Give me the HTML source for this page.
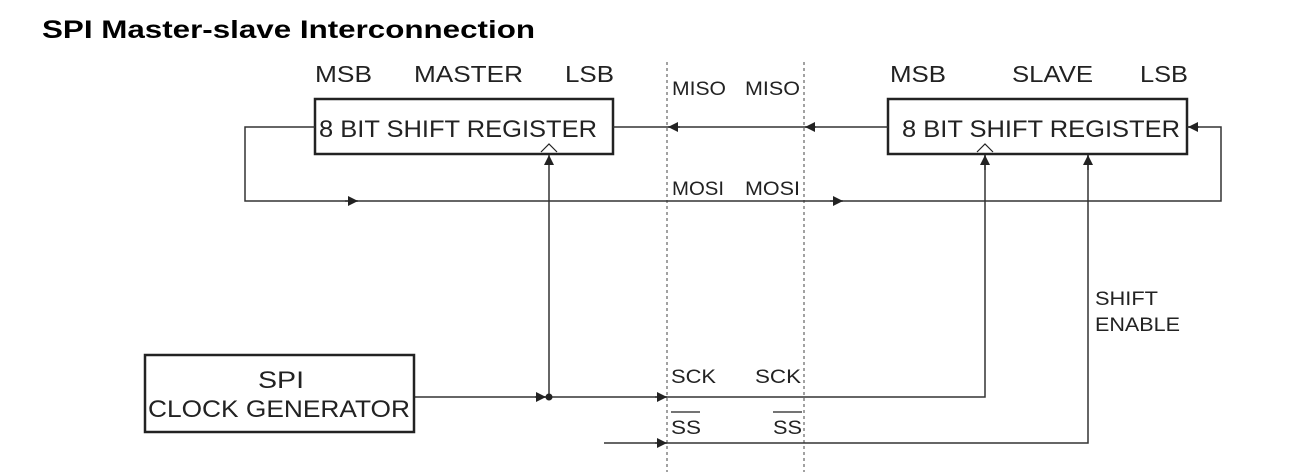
<!DOCTYPE html>
<html><head><meta charset="utf-8"><style>
html,body{margin:0;padding:0;background:#fff;}
svg{display:block;}
text{font-family:"Liberation Sans",Arial,sans-serif;fill:#222;}
</style></head><body>
<svg width="1294" height="472" viewBox="0 0 1294 472" xmlns="http://www.w3.org/2000/svg">
<defs>
<marker id="a" viewBox="0 0 10 10" refX="10" refY="5" markerWidth="10" markerHeight="10" markerUnits="userSpaceOnUse" orient="auto"><path d="M0,0 L10,5 L0,10 z" fill="#222"/></marker>
</defs>
<text x="42" y="38" font-size="25" font-weight="bold" textLength="493" lengthAdjust="spacingAndGlyphs" style="fill:#000">SPI Master-slave Interconnection</text>

<line x1="667" y1="62" x2="667" y2="472" stroke="#444" stroke-width="1" stroke-dasharray="3,3"/>
<line x1="804" y1="62" x2="804" y2="472" stroke="#444" stroke-width="1" stroke-dasharray="3,3"/>

<text x="315" y="82" font-size="23" textLength="57" lengthAdjust="spacingAndGlyphs">MSB</text>
<text x="414" y="82" font-size="23" textLength="109" lengthAdjust="spacingAndGlyphs">MASTER</text>
<text x="565" y="82" font-size="23" textLength="49" lengthAdjust="spacingAndGlyphs">LSB</text>
<rect x="315" y="99" width="298" height="55" fill="none" stroke="#222" stroke-width="2.5"/>
<text x="319" y="137" font-size="24" textLength="278" lengthAdjust="spacingAndGlyphs">8 BIT SHIFT REGISTER</text>
<path d="M541,152 L549,144 L557,152" fill="#fff" stroke="#222" stroke-width="1.2"/>

<text x="890" y="82" font-size="23" textLength="56" lengthAdjust="spacingAndGlyphs">MSB</text>
<text x="1012" y="82" font-size="23" textLength="81" lengthAdjust="spacingAndGlyphs">SLAVE</text>
<text x="1140" y="82" font-size="23" textLength="48" lengthAdjust="spacingAndGlyphs">LSB</text>
<rect x="888" y="99" width="299" height="55" fill="none" stroke="#222" stroke-width="2.5"/>
<text x="902" y="137" font-size="24" textLength="278" lengthAdjust="spacingAndGlyphs">8 BIT SHIFT REGISTER</text>
<path d="M977,152 L985,144 L993,152" fill="#fff" stroke="#222" stroke-width="1.2"/>

<text x="672" y="95" font-size="19" textLength="54" lengthAdjust="spacingAndGlyphs">MISO</text>
<text x="745" y="95" font-size="19" textLength="55" lengthAdjust="spacingAndGlyphs">MISO</text>
<text x="672" y="195" font-size="19" textLength="52" lengthAdjust="spacingAndGlyphs">MOSI</text>
<text x="745" y="195" font-size="19" textLength="55" lengthAdjust="spacingAndGlyphs">MOSI</text>
<text x="671" y="383" font-size="19" textLength="45" lengthAdjust="spacingAndGlyphs">SCK</text>
<text x="755" y="383" font-size="19" textLength="46" lengthAdjust="spacingAndGlyphs">SCK</text>
<text x="671" y="434" font-size="19" textLength="30" lengthAdjust="spacingAndGlyphs">SS</text>
<line x1="671" y1="412" x2="700" y2="412" stroke="#222" stroke-width="1.2"/>
<text x="773" y="434" font-size="19" textLength="29" lengthAdjust="spacingAndGlyphs">SS</text>
<line x1="773" y1="412" x2="802" y2="412" stroke="#222" stroke-width="1.2"/>
<text x="1095" y="305" font-size="19" textLength="63" lengthAdjust="spacingAndGlyphs">SHIFT</text>
<text x="1095" y="331" font-size="19" textLength="85" lengthAdjust="spacingAndGlyphs">ENABLE</text>

<g stroke="#333" stroke-width="1.5" fill="none">
<line x1="888" y1="127" x2="613" y2="127"/>
<line x1="816" y1="127" x2="805" y2="127" marker-end="url(#a)"/>
<line x1="680" y1="127" x2="668" y2="127" marker-end="url(#a)"/>
<polyline points="315,127 245,127 245,201 1221,201 1221,127 1187,127"/>
<line x1="1199" y1="127" x2="1188" y2="127" marker-end="url(#a)"/>
<line x1="345" y1="201" x2="358" y2="201" marker-end="url(#a)"/>
<line x1="830" y1="201" x2="843" y2="201" marker-end="url(#a)"/>
<line x1="549" y1="397" x2="549" y2="155" marker-end="url(#a)"/>
<polyline points="414,397 985,397 985,155"/>
<line x1="985" y1="170" x2="985" y2="155" marker-end="url(#a)"/>
<line x1="535" y1="397" x2="546" y2="397" marker-end="url(#a)"/>
<line x1="655" y1="397" x2="667" y2="397" marker-end="url(#a)"/>
<polyline points="604,443 1088,443 1088,155"/>
<line x1="1088" y1="170" x2="1088" y2="155" marker-end="url(#a)"/>
<line x1="655" y1="443" x2="667" y2="443" marker-end="url(#a)"/>
</g>
<circle cx="549" cy="397" r="3.5" fill="#222"/>

<rect x="145" y="355" width="269" height="77" fill="none" stroke="#222" stroke-width="2.5"/>
<text x="281" y="388" font-size="24" text-anchor="middle" textLength="46" lengthAdjust="spacingAndGlyphs">SPI</text>
<text x="148" y="417" font-size="24" textLength="262" lengthAdjust="spacingAndGlyphs">CLOCK GENERATOR</text>
</svg>
</body></html>
